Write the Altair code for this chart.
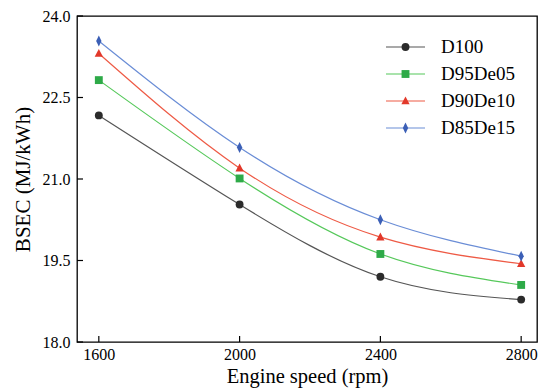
import altair as alt
import pandas as pd

speed = [1600, 2000, 2400, 2800]
series_names = ["D100", "D95De05", "D90De10", "D85De15"]
d100 = [22.17, 20.53, 19.20, 18.78]
d95de05 = [22.82, 21.01, 19.62, 19.05]
d90de10 = [23.31, 21.20, 19.93, 19.44]
d85de15 = [23.54, 21.58, 20.25, 19.58]
x_ticks = [1600, 2000, 2400, 2800]
y_ticks = [18.0, 19.5, 21.0, 22.5, 24.0]

marker_colors = ["#2b2b2b", "#2eaa48", "#e2382a", "#3b5fb6"]
line_colors = ["#555555", "#55c85a", "#ee5a45", "#6a8dd6"]
shapes = ["circle", "square", "M0,-1.15L1.05,0.85L-1.05,0.85Z", "M0,-1.38L0.68,0L0,1.38L-0.68,0Z"]

rows = []
for name, vals in zip(series_names, [d100, d95de05, d90de10, d85de15]):
    for s, v in zip(speed, vals):
        rows.append({"speed": s, "bsec": v, "series": name})
df = pd.DataFrame(rows)
xt = pd.DataFrame({"speed": x_ticks})
yt = pd.DataFrame({"bsec": y_ticks})

FONT = "Liberation Serif"
W, H = 460, 326
MS = 62

xscale = alt.Scale(domain=[1538, 2845], nice=False, zero=False)
yscale = alt.Scale(domain=[18, 24], nice=False, zero=False)
col_line = alt.Color("series:N", scale=alt.Scale(domain=series_names, range=line_colors), legend=None)
col_fill = alt.Fill("series:N", scale=alt.Scale(domain=series_names, range=marker_colors), legend=None)
shp = alt.Shape("series:N", scale=alt.Scale(domain=series_names, range=shapes), legend=None)

xax = alt.Axis(values=x_ticks, format="d", ticks=False, tickSize=0, domain=False, grid=False,
               labelFont=FONT, labelFontSize=16, labelColor="black", labelPadding=4,
               titleFont=FONT, titleFontSize=20.5, titleFontWeight="normal", titleColor="black",
               titlePadding=4)
yax = alt.Axis(values=y_ticks, format=".1f", ticks=False, tickSize=0, domain=False, grid=False,
               labelFont=FONT, labelFontSize=16, labelColor="black", labelPadding=7,
               titleFont=FONT, titleFontSize=21, titleFontWeight="normal", titleColor="black",
               titlePadding=9)

X = alt.X("speed:Q", scale=xscale, axis=xax, title="Engine speed (rpm)")
Y = alt.Y("bsec:Q", scale=yscale, axis=yax, title="BSEC (MJ/kWh)")

lines = alt.Chart(df).mark_line(interpolate="natural", strokeWidth=1.2).encode(
    x=X, y=Y, color=col_line, detail="series:N")
points = alt.Chart(df).mark_point(filled=True, opacity=1, size=MS).encode(
    x=X, y=Y, fill=col_fill, shape=shp)

xtick_layer = alt.Chart(xt).mark_rule(color="black", strokeWidth=1.2).encode(
    x=X, y=alt.value(H), y2=alt.value(H - 6))
ytick_layer = alt.Chart(yt).mark_rule(color="black", strokeWidth=1.2).encode(
    y=Y, x=alt.value(0), x2=alt.value(6))

layers = [lines, points, xtick_layer, ytick_layer]

# legend drawn inside the plot, upper right
for i, name in enumerate(series_names):
    ly = 31 + 27 * i
    ldf = pd.DataFrame({"series": [name]})
    layers.append(alt.Chart(ldf).mark_rule(strokeWidth=1.2, color=line_colors[i]).encode(
        x=alt.value(309), x2=alt.value(348), y=alt.value(ly)))
    layers.append(alt.Chart(ldf).mark_point(filled=True, opacity=1, size=MS, color=marker_colors[i],
                                            shape=shapes[i]).encode(
        x=alt.value(328.5), y=alt.value(ly)))
    layers.append(alt.Chart(ldf).mark_text(align="left", baseline="middle", font=FONT, fontSize=19,
                                           color="black").encode(
        x=alt.value(364), y=alt.value(ly), text="series:N"))

chart = alt.layer(*layers).properties(
    width=W, height=H,
    autosize=alt.AutoSizeParams(type="none"),
    padding={"left": 69, "top": 8, "right": 1, "bottom": 46},
    background="white",
).configure_view(stroke="black", strokeWidth=1.3)

chart.save("out.html", embed_options={"renderer": "svg", "actions": False})
